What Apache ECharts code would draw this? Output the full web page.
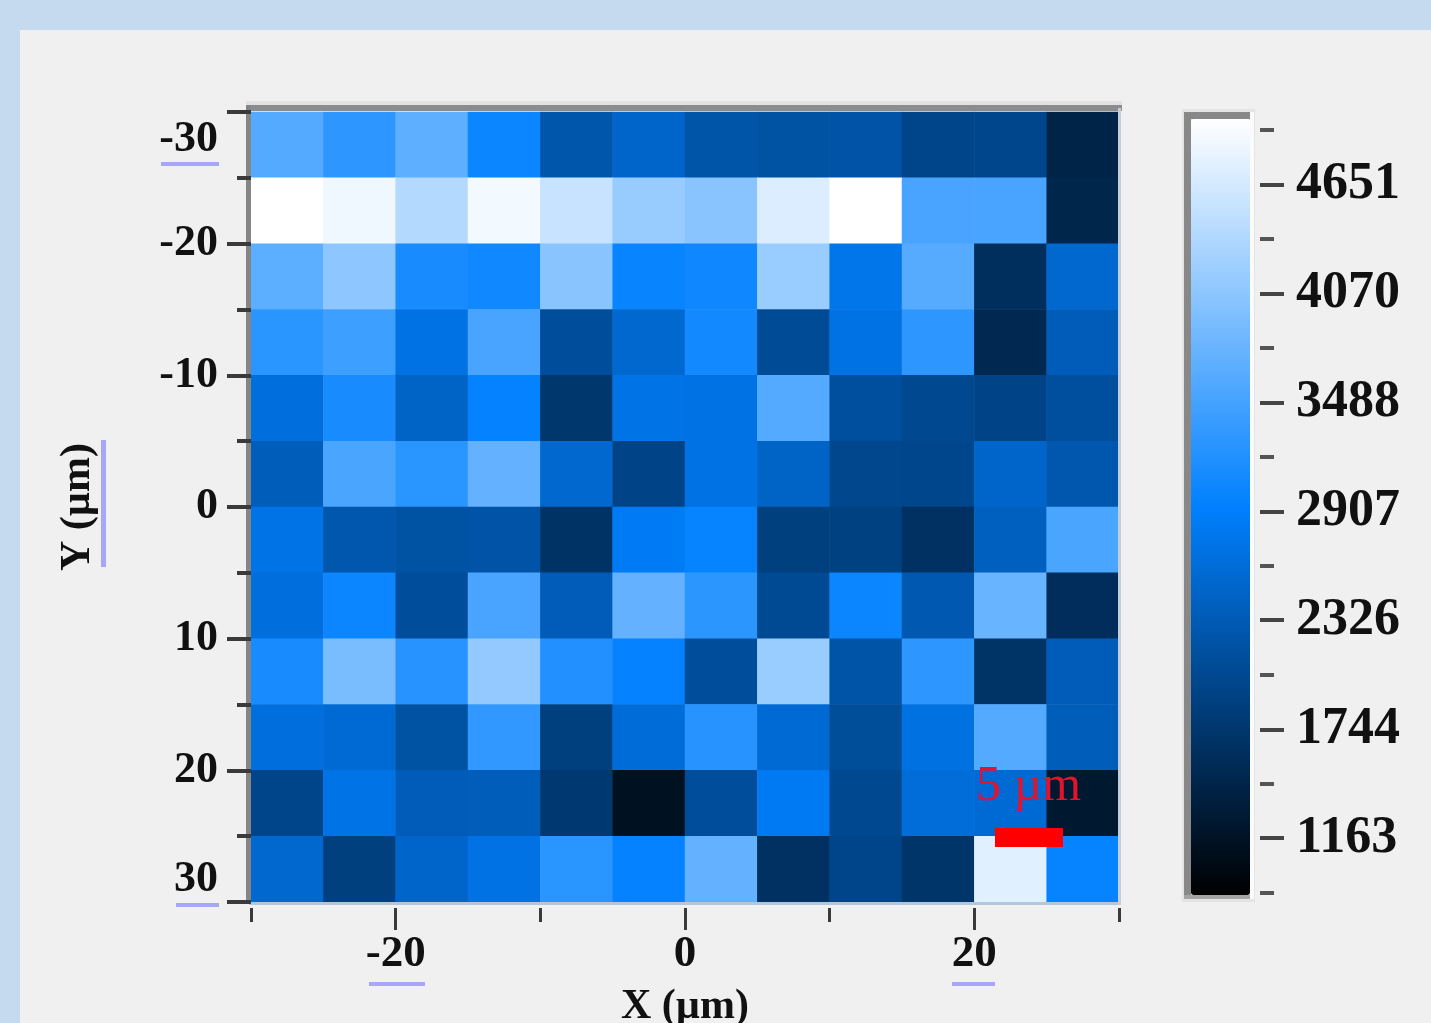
<!DOCTYPE html>
<html>
<head>
<meta charset="utf-8">
<script src="https://cdn.jsdelivr.net/npm/echarts@6/dist/echarts.min.js"></script>
<style>
html,body{margin:0;padding:0;background:#c5daef;}
#chart{width:1431px;height:1023px;}
</style>
</head>
<body>
<div id="chart"></div>
<script>
// ---- data ----
const xCats = ['-27.5','-22.5','-17.5','-12.5','-7.5','-2.5','2.5','7.5','12.5','17.5','22.5','27.5'];
const yCats = ['-27.5','-22.5','-17.5','-12.5','-7.5','-2.5','2.5','7.5','12.5','17.5','22.5','27.5'];
// rows from top (Y=-27.5) to bottom (Y=27.5), columns from X=-27.5 to X=27.5
const row0  = [3613, 3307, 3694, 3020, 2246, 2498, 2230, 2183, 2204, 1973, 1994, 1448];
const row1  = [5000, 4878, 4388, 4898, 4551, 4164, 4041, 4714, 5000, 3511, 3511, 1469];
const row2  = [3674, 4082, 3123, 3062, 4041, 3000, 3041, 4184, 2771, 3633, 1616, 2540];
const row3  = [3266, 3429, 2708, 3511, 2120, 2540, 3082, 2078, 2708, 3307, 1511, 2351];
const row4  = [2645, 3123, 2477, 2960, 1742, 2729, 2708, 3613, 2141, 2036, 1952, 2141];
const row5  = [2372, 3531, 3266, 3735, 2540, 1952, 2708, 2477, 2015, 1994, 2498, 2267];
const row6  = [2729, 2267, 2183, 2204, 1679, 2855, 2980, 1889, 1910, 1658, 2414, 3531];
const row7  = [2645, 3020, 2120, 3511, 2351, 3735, 3286, 2057, 3020, 2288, 3776, 1595];
const row8  = [3123, 3919, 3246, 4123, 3205, 2960, 2120, 4184, 2225, 3307, 1700, 2351];
const row9  = [2645, 2582, 2183, 3327, 1889, 2603, 3246, 2582, 2099, 2687, 3613, 2372];
const row10 = [1973, 2729, 2351, 2372, 1784, 1133, 2120, 2834, 2036, 2624, 2582, 1259];
const row11 = [2540, 1889, 2498, 2708, 3266, 2960, 3735, 1658, 1973, 1721, 4755, 2980];
const heatRows = [row0,row1,row2,row3,row4,row5,row6,row7,row8,row9,row10,row11];

const colorMin = 860, colorMax = 5000;
const colorbarMajor = [1163, 1744, 2326, 2907, 3488, 4070, 4651];
const colorbarMinor = [872, 1453, 2035, 2616, 3198, 3779, 4360, 4942];
const xLabelTicks = [-20, 0, 20];
const xShortTicks = [-30, -10, 10, 30];

// ---- build ----
const heatData = [];
heatRows.forEach((row, j) => row.forEach((v, i) => heatData.push([i, j, v])));

const SERIF = '"Liberation Serif","DejaVu Serif","Times New Roman",serif';
const tickColor = '#3a3a3a';
const uline = '#a6a6fa';

const chart = echarts.init(document.getElementById('chart'));
chart.setOption({
  backgroundColor: '#f0f0f0',
  animation: false,
  grid: [
    {left: 251, top: 112, width: 868, height: 790, show: false, containLabel: false, outerBoundsMode: 'none'},
    {left: 1191, top: 119, width: 69, height: 776, show: false, containLabel: false, outerBoundsMode: 'none'}
  ],
  xAxis: [
    {type: 'category', data: xCats, gridIndex: 0, position: 'top', show: false},
    {type: 'value', gridIndex: 0, min: -30, max: 30, position: 'bottom', offset: 6, z: 12,
      axisLine: {show: false, onZero: false}, splitLine: {show: false},
      axisTick: {show: true, customValues: xShortTicks, length: 14, lineStyle: {color: tickColor, width: 3}},
      axisLabel: {show: false}},
    {type: 'value', gridIndex: 0, min: -30, max: 30, position: 'bottom', offset: 6, z: 12,
      axisLine: {show: false, onZero: false}, splitLine: {show: false},
      axisTick: {show: true, customValues: xLabelTicks, length: 22, lineStyle: {color: tickColor, width: 3}},
      axisLabel: {show: true, customValues: xLabelTicks, margin: 24, color: '#111',
        fontFamily: SERIF, fontWeight: 'bold', fontSize: 45},
      name: 'X (µm)', nameLocation: 'middle', nameGap: 78,
      nameTextStyle: {color: '#111', fontFamily: SERIF, fontWeight: 'bold', fontSize: 42}},
    {type: 'value', gridIndex: 1, min: 0, max: 1, show: false}
  ],
  yAxis: [
    {type: 'category', data: yCats, gridIndex: 0, inverse: true, position: 'right', show: false},
    {type: 'value', gridIndex: 0, min: -30, max: 30, interval: 10, inverse: true, position: 'left', z: 12,
      axisLine: {show: false, onZero: false}, splitLine: {show: false},
      axisTick: {show: true, length: 24, lineStyle: {color: tickColor, width: 4}},
      minorTick: {show: true, splitNumber: 2, length: 14, lineStyle: {color: tickColor, width: 4}},
      minorSplitLine: {show: false},
      axisLabel: {show: true, margin: 33, color: '#111',
        fontFamily: SERIF, fontWeight: 'bold', fontSize: 44,
        formatter: function (v) {
          if (v === -30) return '{t|' + v + '}';
          if (v === 30) return '{b|' + v + '}';
          return '' + v;
        },
        rich: {
          t: {fontFamily: SERIF, fontWeight: 'bold', fontSize: 44, color: '#111', padding: [56, 0, 0, 0]},
          b: {fontFamily: SERIF, fontWeight: 'bold', fontSize: 44, color: '#111', padding: [0, 0, 44, 0]}
        }},
      name: 'Y (µm)', nameLocation: 'middle', nameGap: 152, nameRotate: 90,
      nameTextStyle: {color: '#111', fontFamily: SERIF, fontWeight: 'bold', fontSize: 42}},
    {type: 'value', gridIndex: 1, min: colorMin, max: colorMax, position: 'right',
      axisLine: {show: false, onZero: false}, splitLine: {show: false},
      axisTick: {show: true, customValues: colorbarMajor, length: 24, lineStyle: {color: '#444', width: 4}},
      axisLabel: {show: true, customValues: colorbarMajor, margin: 36, color: '#111',
        fontFamily: SERIF, fontWeight: 'bold', fontSize: 52,
        formatter: function (v) { return String(Math.round(v)); }}},
    {type: 'value', gridIndex: 1, min: colorMin, max: colorMax, position: 'right',
      axisLine: {show: false, onZero: false}, splitLine: {show: false},
      axisTick: {show: true, customValues: colorbarMinor, length: 14, lineStyle: {color: '#555', width: 4}},
      axisLabel: {show: false}}
  ],
  visualMap: {
    type: 'continuous', min: colorMin, max: colorMax, seriesIndex: 0,
    orient: 'vertical', left: 1191, top: 119, itemWidth: 59, itemHeight: 776,
    padding: 0, calculable: false, hoverLink: false, text: null, showLabel: false,
    inRange: {color: ['#000000', '#0080ff', '#ffffff']}
  },
  series: [{
    type: 'heatmap', xAxisIndex: 0, yAxisIndex: 0, data: heatData,
    emphasis: {disabled: true}, progressive: 0
  }],
  graphic: [
    // outer light-blue frame
    {type: 'rect', shape: {x: 0, y: 0, width: 1431, height: 30}, style: {fill: '#c5daef'}, z: 0},
    {type: 'rect', shape: {x: 0, y: 0, width: 20, height: 1023}, style: {fill: '#c5daef'}, z: 0},
    // plot frame
    {type: 'rect', shape: {x: 246, y: 101, width: 876, height: 4}, style: {fill: '#e2e2e2'}, z: 10},
    {type: 'rect', shape: {x: 246, y: 105, width: 876, height: 6}, style: {fill: '#8c8c8c'}, z: 10},
    {type: 'rect', shape: {x: 246, y: 105, width: 5, height: 798}, style: {fill: '#858585'}, z: 10},
    {type: 'rect', shape: {x: 249, y: 902, width: 872, height: 3}, style: {fill: '#b4c6da'}, z: 10},
    {type: 'rect', shape: {x: 1118, y: 108, width: 3, height: 797}, style: {fill: '#c4cfdb'}, z: 10},
    // colorbar frame
    {type: 'rect', shape: {x: 1182, y: 109, width: 73, height: 793}, style: {fill: '#e4e4e4'}, z: 1},
    {type: 'rect', shape: {x: 1184, y: 112, width: 7, height: 787}, style: {fill: '#888888'}, z: 1},
    {type: 'rect', shape: {x: 1184, y: 112, width: 67, height: 7}, style: {fill: '#888888'}, z: 1},
    {type: 'rect', shape: {x: 1184, y: 895, width: 67, height: 4}, style: {fill: '#a4a4a4'}, z: 1},
    {type: 'rect', shape: {x: 1250, y: 112, width: 4, height: 787}, style: {fill: '#fbfbfb'}, z: 1},
    // underline decorations
    {type: 'rect', shape: {x: 161, y: 162, width: 58, height: 4}, style: {fill: uline}, z: 10},
    {type: 'rect', shape: {x: 176, y: 903, width: 43, height: 4}, style: {fill: uline}, z: 10},
    {type: 'rect', shape: {x: 101, y: 440, width: 5, height: 127}, style: {fill: uline}, z: 10},
    {type: 'rect', shape: {x: 369, y: 982, width: 56, height: 4}, style: {fill: uline}, z: 10},
    {type: 'rect', shape: {x: 952, y: 982, width: 43, height: 4}, style: {fill: uline}, z: 10},
    // scale bar
    {type: 'text', z: 20, style: {text: '5 µm', x: 976, y: 787, fill: '#e3132d',
      font: '50px ' + SERIF, align: 'left', verticalAlign: 'middle'}},
    {type: 'rect', z: 20, shape: {x: 995, y: 828, width: 68, height: 19}, style: {fill: '#ff0000'}}
  ]
});
</script>
</body>
</html>
